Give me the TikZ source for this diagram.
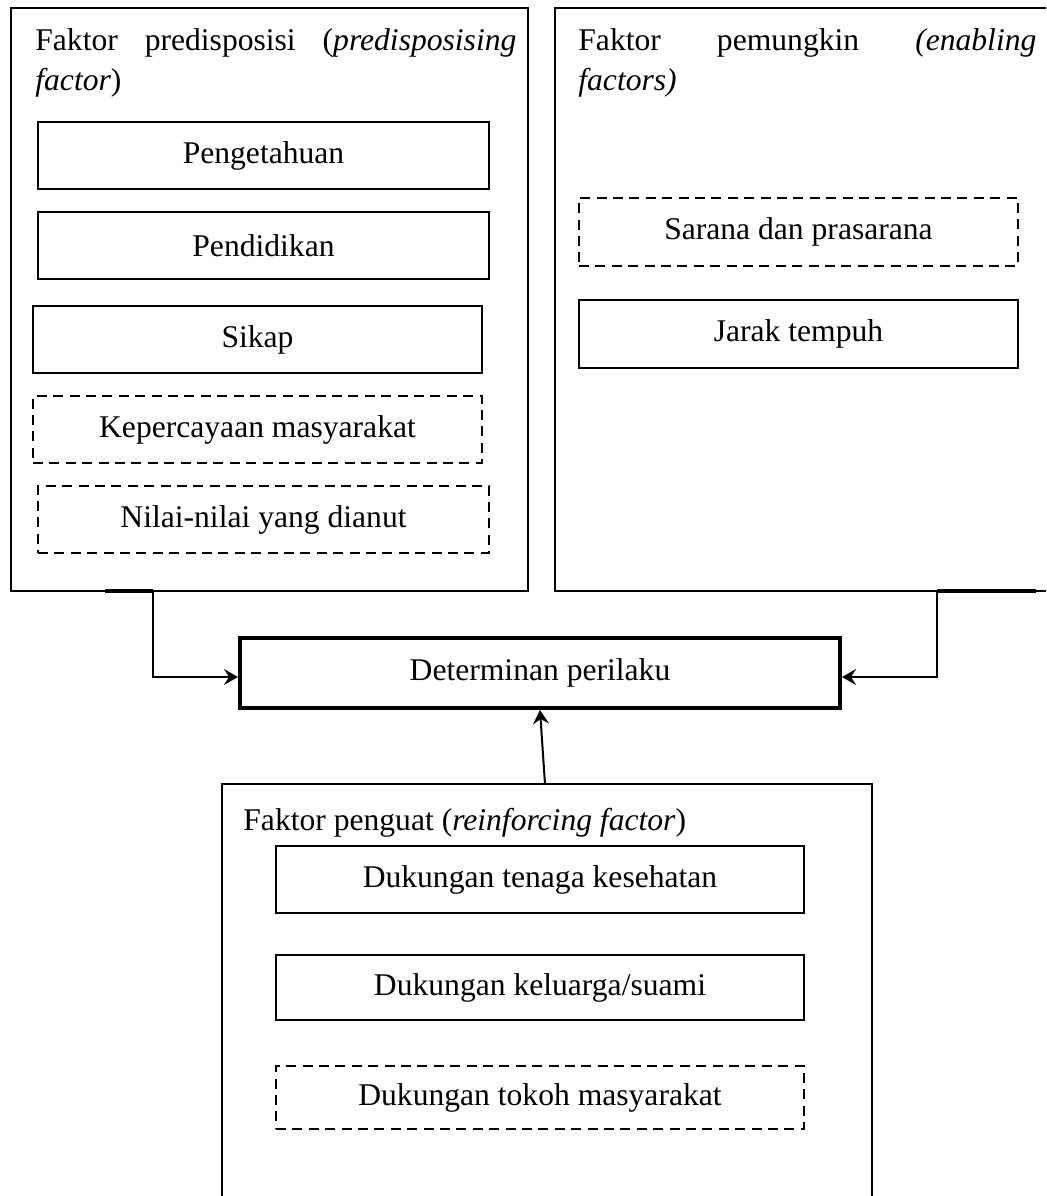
\documentclass[tikz,border=0pt]{standalone}
\usepackage{fontspec}
\setmainfont{Liberation Serif}
\usetikzlibrary{arrows.meta,calc}
\newcommand\mybox[7]{\node[#1, minimum width={(#5-#3)*0.5pt}, minimum height={(#6-#4)*0.5pt}] (#2) at ({(#3+#5)/2},{(#4+#6)/2}) {#7};}
\begin{document}
\begin{tikzpicture}[x=0.5pt,y=-0.5pt,
  every node/.style={font=\fontsize{15.8pt}{19pt}\selectfont},
  outerbox/.style={draw, line width=1pt, inner sep=0pt, rectangle},
  itembox/.style={draw, line width=1pt, inner sep=0pt, rectangle},
  ditembox/.style={itembox, dash pattern=on 5pt off 3.2pt},
  detbox/.style={draw, line width=2pt, inner sep=0pt, rectangle},
  conn/.style={line width=1pt, -{Stealth[length=7pt,width=8pt,inset=2.5pt]}},
  stub/.style={line width=2.4pt},
  title/.style={anchor=base west, inner sep=0pt},
]
\useasboundingbox (0,0) rectangle (1046,1196);
\clip (0,0) rectangle (1046,1196);

% outer groups
\mybox{outerbox}{pred}{11}{8}{528}{591}{}
\mybox{outerbox}{enab}{555}{8}{1070}{591}{}
\mybox{outerbox}{reinf}{222}{784}{872}{1230}{}

% titles
\node[title] (t1a) at (35,50) {\makebox[240.5pt][s]{Faktor predisposisi (\textit{predisposising}}};
\node[title] (t1b) at (35,90) {\textit{factor})};
\node[title] (t2a) at (578,50) {\makebox[229pt][s]{Faktor pemungkin \textit{(enabling}}};
\node[title] (t2b) at (578,90) {\textit{factors)}};
\node[title] (t3) at (243,830) {Faktor penguat (\textit{reinforcing factor})};

% predisposing items
\mybox{itembox}{p1}{38}{122}{489}{189}{Pengetahuan}
\mybox{itembox}{p2}{38}{212}{489}{279}{Pendidikan}
\mybox{itembox}{p3}{33}{306}{482}{373}{Sikap}
\mybox{ditembox}{p4}{33}{396}{482}{463}{Kepercayaan masyarakat}
\mybox{ditembox}{p5}{38}{486}{489}{553}{Nilai-nilai yang dianut}

% enabling items
\mybox{ditembox}{e1}{579}{198}{1018}{266}{Sarana dan prasarana}
\mybox{itembox}{e2}{579}{300}{1018}{368}{Jarak tempuh}

% reinforcing items
\mybox{itembox}{r1}{276}{846}{804}{913}{Dukungan tenaga kesehatan}
\mybox{itembox}{r2}{276}{955}{804}{1020}{Dukungan keluarga/suami}
\mybox{ditembox}{r3}{276}{1066}{804}{1129}{Dukungan tokoh masyarakat}

% central box
\mybox{detbox}{det}{240}{638}{840}{708}{Determinan perilaku}

% connectors
\coordinate (la) at (105,591);
\coordinate (lb) at (153,591);
\draw[stub] (la) -- (lb);
\draw[conn] (lb) |- ([yshift=-2pt]det.west);

\coordinate (ra) at (937,591);
\coordinate (rb) at (1036,591);
\draw[stub] (ra) -- (rb);
\draw[conn] (ra) |- ([yshift=-2pt]det.east);

\coordinate (ma) at (545,784);
\draw[conn] (ma) -- (det.south);
\end{tikzpicture}
\end{document}
